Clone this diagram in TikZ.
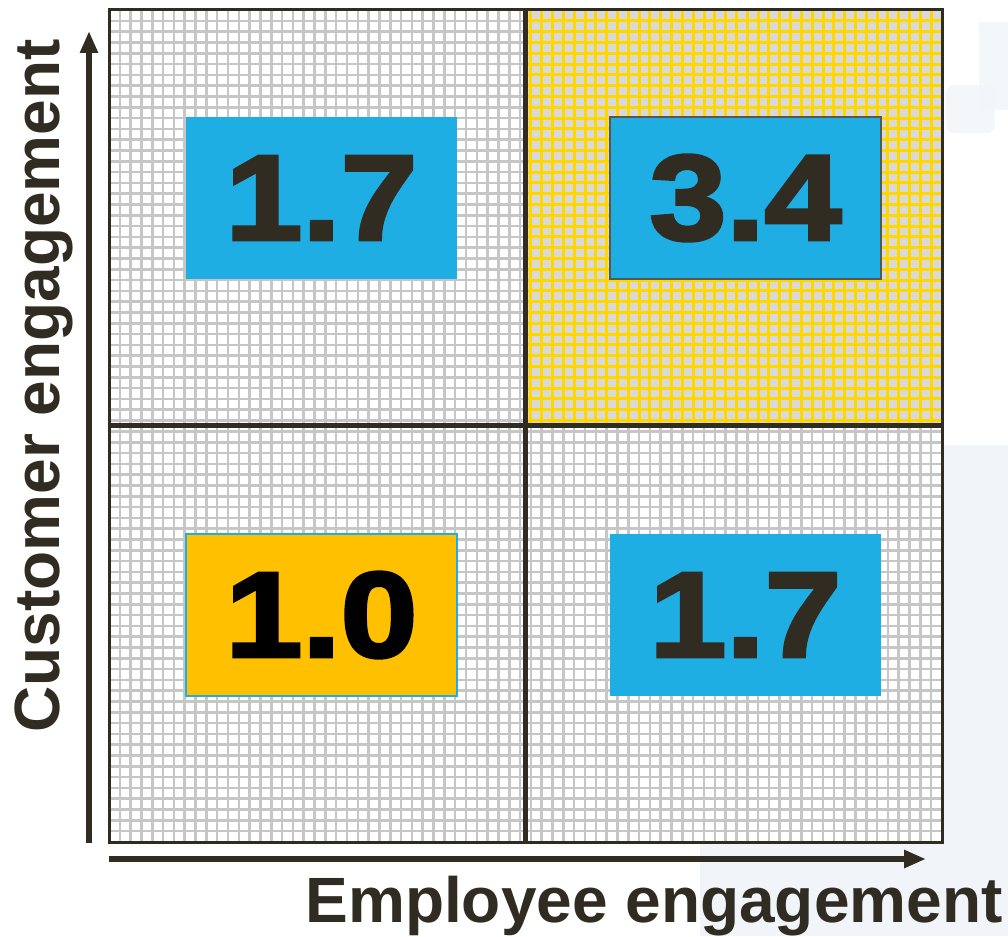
\documentclass[tikz,border=0pt]{standalone}
\usepackage{fontspec}
\setmainfont{Liberation Sans}
\newfontfamily\numfont{Liberation Sans Bold}[FakeBold=3,FakeStretch=1.14]
\usetikzlibrary{arrows.meta}

\definecolor{inkdark}{HTML}{302C22}
\definecolor{cellblue}{HTML}{1FAEE3}
\definecolor{cellorange}{HTML}{FFC000}
\definecolor{gridgray}{HTML}{C6C6C6}
\definecolor{gridyellow}{HTML}{FFD700}
\definecolor{fillgray}{HTML}{D9D9D9}
\definecolor{haze}{HTML}{F1F5F9}

\tikzset{
  gridline/.style={gridgray,line width=2.6pt},
  yellowline/.style={gridyellow,line width=3pt},
  divider/.style={inkdark,line width=5pt},
  axisarrow/.style={inkdark,line width=5.5pt,-{Triangle[length=22pt,width=17pt]}},
  valbox/.style={minimum width=271pt,minimum height=162pt,inner sep=0pt,
                 font=\numfont\fontsize{121}{121}\selectfont,text=inkdark},
  axislabel/.style={font=\bfseries\fontsize{64}{64}\selectfont,text=inkdark}
}

\begin{document}
\begin{tikzpicture}[x=1pt,y=-1pt]
    \useasboundingbox (0,0) rectangle (1008,936);

    % faint background patches
    \fill [haze] (700,445) rectangle (1008,936);
    \fill [haze,fill opacity=0.8] (979,22) rectangle (1008,110);
    \fill [haze,fill opacity=0.8,rounded corners=8pt] (946,133) -- (946,85) -- (995,85) -- (995,133) -- cycle;

    % the grid
    \fill [white] (109,10) rectangle (942,842);
    \foreach \i in {0,...,77}
        \draw [gridline] ({109+\i*10.818},10) -- ({109+\i*10.818},842)
                         (109,{10+\i*10.805}) -- (942,{10+\i*10.805});

    % upper right quadrant
    \fill [fillgray] (525,10) rectangle (942,425);
    \foreach \i in {39,...,77}
        \draw [yellowline] ({109+\i*10.818},10) -- ({109+\i*10.818},425);
    \foreach \j in {0,...,38}
        \draw [yellowline] (525,{10+\j*10.805}) -- (942,{10+\j*10.805});

    \draw [inkdark,line width=3pt] (109,10) rectangle (942,842);
    \draw [divider] (525.5,10) -- (525.5,842)
                    (109,425) -- (942,425);

    % values
    \node [valbox,fill=cellblue] (lowhigh) at (321.5,198) {1.7};
    \node [valbox,fill=cellblue,draw=inkdark!80,line width=1.5pt] (highhigh) at (745.5,198) {3.4};
    \node [valbox,fill=cellorange,draw=cellblue,line width=1.5pt,text=black] (lowlow) at (321.5,615) {1.0};
    \node [valbox,fill=cellblue] (highlow) at (745.5,615) {1.7};

    % axes
    \coordinate (origin) at (89,843);
    \coordinate (xend) at (926,859);
    \coordinate (yend) at (89,31);
    \coordinate (xstart) at (109,859);
    \draw [axisarrow] (xstart) -- (xend);
    \draw [axisarrow] (origin) -- (yend);

    \node [axislabel,anchor=base] (xlabel) at (654,922) {Employee engagement};
    \node [axislabel,anchor=base,rotate=90] (ylabel) at (59,386) {Customer engagement};
\end{tikzpicture}
\end{document}
